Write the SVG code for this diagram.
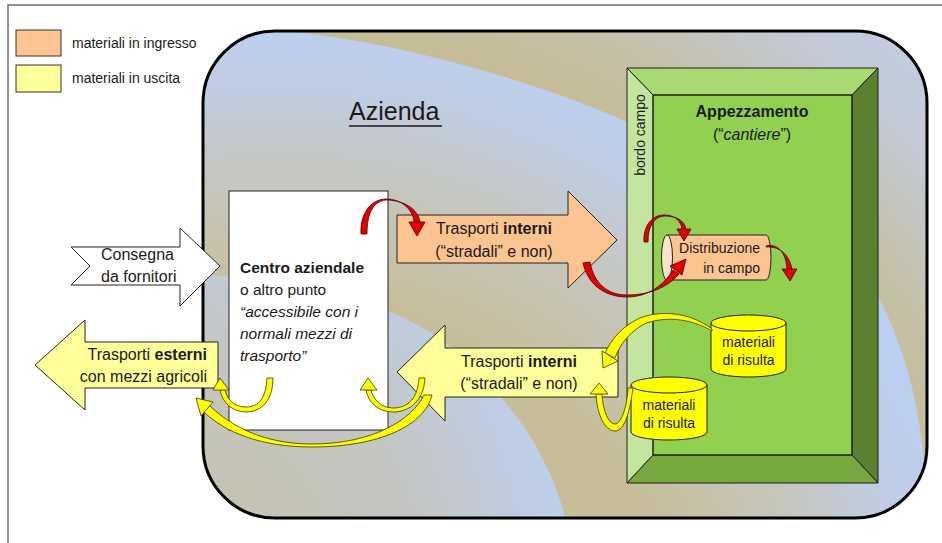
<svg xmlns="http://www.w3.org/2000/svg" width="942" height="543" viewBox="0 0 942 543">
<style>
text{font-family:"Liberation Sans",Arial,sans-serif;fill:#1a1a1a}
.b{font-weight:bold}
.i{font-style:italic}
.red{fill:#e00000;stroke:#4a0000;stroke-width:0.8}
.yel{fill:#ffff00;stroke:#3a3a00;stroke-width:0.8}
.edge{stroke:#1e1e1e;stroke-width:1}
</style>
<defs>
<clipPath id="az"><rect x="203" y="31" width="724" height="487" rx="72" ry="72"/></clipPath>
<radialGradient id="gBase" gradientUnits="userSpaceOnUse" cx="283" cy="724" r="900">
<stop offset="0.76" stop-color="#c6bc96"/>
<stop offset="0.84" stop-color="#c5c0a8"/>
<stop offset="0.95" stop-color="#c3cad6"/>
<stop offset="1" stop-color="#c2ccdc"/>
</radialGradient>
<radialGradient id="gTop" gradientUnits="userSpaceOnUse" cx="283" cy="724" r="700">
<stop offset="0.6" stop-color="#c7bd99"/>
<stop offset="0.77" stop-color="#c6c6bb"/>
<stop offset="0.93" stop-color="#bfcde6"/>
<stop offset="1" stop-color="#bdcff0"/>
</radialGradient>
<radialGradient id="gLow" gradientUnits="userSpaceOnUse" cx="200" cy="560" r="400">
<stop offset="0" stop-color="#c6c1aa"/>
<stop offset="0.55" stop-color="#c3c6c4"/>
<stop offset="0.87" stop-color="#bfcee8"/>
<stop offset="1" stop-color="#bed0ef"/>
</radialGradient>
</defs>

<rect x="0" y="0" width="942" height="543" fill="#ffffff"/>
<rect x="8" y="5" width="950" height="560" fill="none" stroke="#6e6e6e" stroke-width="1.5"/>

<g id="legend">
<rect x="16" y="30" width="45" height="26" fill="#fbc491" stroke="#333" stroke-width="1"/>
<text x="72" y="48" font-size="14">materiali in ingresso</text>
<rect x="16" y="65" width="45" height="27" fill="#ffff99" stroke="#333" stroke-width="1"/>
<text x="72" y="83" font-size="14">materiali in uscita</text>
</g>

<g id="azienda">
<g clip-path="url(#az)">
<rect x="200" y="28" width="740" height="500" fill="url(#gBase)"/>
<path d="M180,10 L280,31 C380,38 540,80 640,128 C760,180 850,240 880,300 C905,350 918,400 924,460 L935,530 L180,530 Z" fill="url(#gTop)"/>
<path d="M180,272 L205,275 C300,280 400,300 460,355 C520,410 550,460 566,520 L566,540 L180,540 Z" fill="url(#gLow)"/>
</g>
<rect x="203" y="31" width="724" height="487" rx="72" ry="72" fill="none" stroke="#000" stroke-width="3"/>
<text x="349" y="120" font-size="25">Azienda</text>
<line x1="349" y1="126" x2="442" y2="126" stroke="#1a1a1a" stroke-width="1.5"/>
</g>

<g id="appezzamento">
<rect x="653" y="95" width="199" height="360" fill="#92d050"/>
<polygon points="627,68 878,68 852,95 653,95" fill="#a9d970" class="edge"/>
<polygon points="627,68 653,95 653,455 627,483" fill="#c3e59f" class="edge"/>
<polygon points="878,68 878,483 852,455 852,95" fill="#5b8030" class="edge"/>
<polygon points="627,483 878,483 852,455 653,455" fill="#77a83f" class="edge"/>
<rect x="653" y="95" width="199" height="360" fill="none" class="edge"/>
<text x="752" y="117" font-size="16" class="b" text-anchor="middle">Appezzamento</text>
<text x="752" y="140" font-size="16" text-anchor="middle">(“<tspan class="i">cantiere</tspan>”)</text>
<text transform="translate(645,135) rotate(-90)" font-size="14" text-anchor="middle">bordo campo</text>
</g>

<g id="centro">
<rect x="229" y="191" width="159" height="239" fill="#ffffff" stroke="#222" stroke-width="1"/>
<text x="240" y="273" font-size="15.5" class="b">Centro aziendale</text>
<text x="240" y="295" font-size="15.5">o altro punto</text>
<text x="240" y="317" font-size="15.5" class="i">“accessibile con i</text>
<text x="240" y="339" font-size="15.5" class="i">normali mezzi di</text>
<text x="240" y="361" font-size="15.5" class="i">trasporto”</text>
</g>

<g id="consegna">
<path d="M71,247 L180,247 L180,228 L220,266 L180,306 L180,285 L71,285 L90,266 Z" fill="#ffffff" stroke="#222" stroke-width="1"/>
<text x="101" y="260" font-size="16">Consegna</text>
<text x="101" y="282" font-size="16">da fornitori</text>
</g>

<g id="esterni">
<path d="M35,365 L85,320 L85,342 L218,342 L218,388 L85,388 L85,410 Z" fill="#ffff99" stroke="#222" stroke-width="1"/>
<text x="207" y="360" font-size="16" text-anchor="end">Trasporti <tspan class="b">esterni</tspan></text>
<text x="207" y="382" font-size="16" text-anchor="end">con mezzi agricoli</text>
</g>

<g id="interni-in">
<path d="M397,215 L568,215 L568,191 L617,240 L568,288 L568,263 L397,263 Z" fill="#fbc491" stroke="#222" stroke-width="1"/>
<text x="494" y="234" font-size="16" text-anchor="middle">Trasporti <tspan class="b">interni</tspan></text>
<text x="494" y="257" font-size="16" text-anchor="middle">(“stradali” e non)</text>
</g>

<g id="interni-out">
<path d="M397,372 L445,325 L445,348 L618,348 L618,397 L445,397 L445,421 Z" fill="#ffff99" stroke="#222" stroke-width="1"/>
<text x="519" y="367" font-size="16" text-anchor="middle">Trasporti <tspan class="b">interni</tspan></text>
<text x="519" y="389" font-size="16" text-anchor="middle">(“stradali” e non)</text>
</g>

<g id="distribuzione">
<path d="M667,235 L766,235 A5,22.5 0 0 1 766,280 L667,280 Z" fill="#fbc491" stroke="#222" stroke-width="1"/>
<ellipse cx="667" cy="257.5" rx="5.5" ry="22.5" fill="#fde3cc" stroke="#222" stroke-width="1"/>
<text x="760" y="253" font-size="14" text-anchor="end">Distribuzione</text>
<text x="760" y="273" font-size="14" text-anchor="end">in campo</text>
</g>

<g id="risulta1">
<path d="M711,323 L711,369 A37.5,8 0 0 0 786,369 L786,323 Z" fill="#ffff00" stroke="#222" stroke-width="1"/>
<ellipse cx="748.5" cy="323" rx="37.5" ry="8" fill="#ffff00" stroke="#222" stroke-width="1"/>
<text x="748.5" y="347" font-size="14" text-anchor="middle">materiali</text>
<text x="748.5" y="365" font-size="14" text-anchor="middle">di risulta</text>
</g>

<g id="risulta2">
<path d="M631,385 L631,432 A38,8 0 0 0 707,432 L707,385 Z" fill="#ffff00" stroke="#222" stroke-width="1"/>
<ellipse cx="669" cy="385" rx="38" ry="8" fill="#ffff00" stroke="#222" stroke-width="1"/>
<text x="669" y="410" font-size="14" text-anchor="middle">materiali</text>
<text x="669" y="428" font-size="14" text-anchor="middle">di risulta</text>
</g>

<g id="connectors">
<path class="red" d="M361,234 C360,212 372,199 386,199 C401,199 413,209 414,222 L420,222 C418,208 402,200 386,200 C374,201 367,212 367,234 Z"/>
<polygon class="red" points="409,222 425,222 417,236"/>
<path class="red" d="M583,263 C588,285 605,297 627,297 C648,297 664,285 673,270 L679,274 C668,287 650,295 627,295 C608,295 594,284 590,262 Z"/>
<polygon class="red" points="670,266 682,275 686,259"/>
<path class="red" d="M644,242 C643,226 652,215 664,215 C675,215 681,221 682,229 L686,229 C684,220 676,216 664,216 C654,217 648,226 648,242 Z"/>
<polygon class="red" points="677,229 691,229 684,241"/>
<path class="red" d="M766,246 C777,243 786,252 787,269 L792,269 C789,254 779,246 766,247 Z"/>
<polygon class="red" points="782,269 797,269 790,281"/>
<path class="yel" d="M712,329 C690,312 660,310 640,318 C622,326 611,340 605,353 L615,358 C620,344 630,332 644,324 C664,316 690,318 712,331 Z"/>
<polygon class="yel" points="602,351 618,361 603,368"/>
<path class="yel" d="M633,388 C630,410 625,431 615,431 C605,431 597,415 596,394 L602,394 C603,412 609,424 615,424 C621,424 627,408 628,388 Z"/>
<polygon class="yel" points="590,394 608,394 599,383"/>
<path class="yel" d="M425,378 C424,400 410,412 393,412 C378,412 368,402 366,390 L371,390 C373,400 382,408 393,408 C408,408 418,398 419,378 Z"/>
<polygon class="yel" points="360,390 377,390 368,378"/>
<path class="yel" d="M273,378 C273,400 262,412 246,412 C232,412 222,402 220,390 L225,390 C227,400 235,407 246,407 C259,407 266,398 267,378 Z"/>
<polygon class="yel" points="213,390 229,390 220,378"/>
<path class="yel" d="M432,395 C425,425 380,447 312,447 C260,447 225,432 204,412 L210,406 C230,425 262,444 312,444 C372,444 412,420 424,395 Z"/>
<polygon class="yel" points="213,402 201,416 196,398"/>
</g>
</svg>
